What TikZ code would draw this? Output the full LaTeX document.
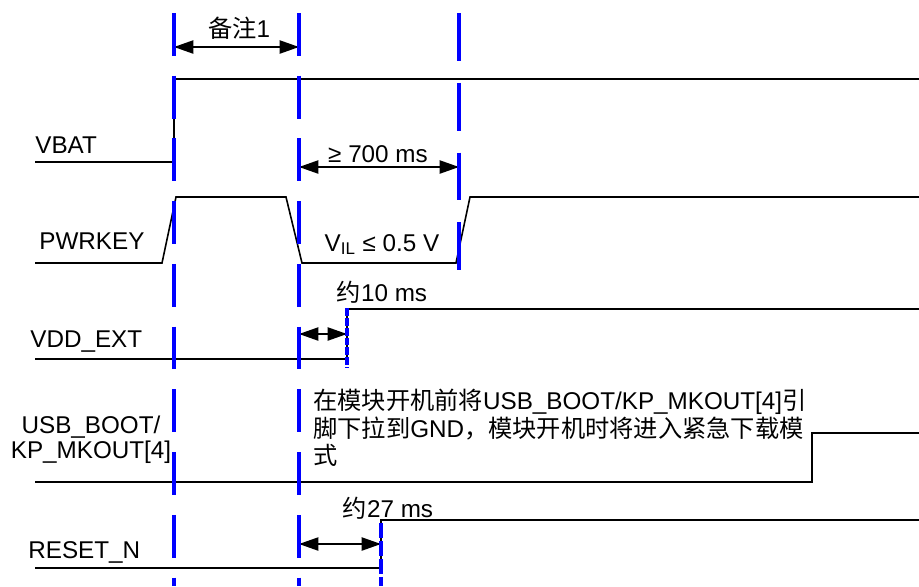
\documentclass[tikz,border=0pt]{standalone}
\usepackage{fontspec}
\setmainfont{Liberation Sans}
\newfontfamily\cjk{Noto Sans CJK SC}
\usetikzlibrary{arrows.meta}
\definecolor{markblue}{RGB}{0,0,255}

\tikzset{
  sig/.style={line width=0.9pt, black},
  marker/.style={line width=2pt, markblue, dash pattern=on 24.4pt off 11.3pt},
  finemarker/.style={line width=2pt, markblue, dash pattern=on 4.5pt off 1.1pt},
  dim/.style={line width=0.9pt, {Triangle[length=11pt,width=7.5pt]}-{Triangle[length=11pt,width=7.5pt]}},
  lbl/.style={anchor=base west, inner sep=0pt},
  note/.style={anchor=base, inner sep=0pt}
}

\begin{document}
\begin{tikzpicture}[x=0.02cm, y=-0.02cm, font=\fontsize{13.8}{14.2}\selectfont]
  \useasboundingbox (0,0) rectangle (919,586);

  %% VBAT
  \node[lbl] (vbat) at (35,153) {VBAT};
  \draw[sig] (35,162) -- (174,162) -- (174,79) -- (919,79);

  %% PWRKEY
  \node[lbl] (pwrkey) at (39,249) {PWRKEY};
  \draw[sig] (35,263) -- (162,263) -- (176,197) -- (286,197)
    -- (302,263) -- (456,263) -- (470,197) -- (919,197);
  \node[note] (vil) at (382,251) {V\textsubscript{IL} ≤ 0.5 V};

  %% VDD_EXT
  \node[lbl] (vddext) at (30,347) {VDD\_EXT};
  \draw[sig] (35,359) -- (347,359) -- (347,309) -- (919,309);

  %% USB_BOOT/KP_MKOUT[4]
  \node[align=center, anchor=north, inner sep=0pt] (usbboot) at (91,416)
    {USB\_BOOT/\\KP\_MKOUT[4]};
  \draw[sig] (35,482) -- (812,482) -- (812,433) -- (919,433);
  \node[align=left, anchor=north west, inner sep=0pt,
        font=\fontsize{13.8}{15.6}\selectfont] (bootnote) at (313,389)
    {{\cjk 在模块开机前将}USB\_BOOT/KP\_MKOUT[4]{\cjk 引}\\
     {\cjk 脚下拉到}GND{\cjk ，模块开机时将进入紧急下载模}\\
     {\cjk 式}};

  %% RESET_N
  \node[lbl] (resetn) at (28,558) {RESET\_N};
  \draw[sig] (35,568) -- (381,568) -- (381,520) -- (919,520);

  %% Timing arrows
  \coordinate (n1L) at (174,47);  \coordinate (n1R) at (299,47);
  \coordinate (d7L) at (299,167); \coordinate (d7R) at (459,167);
  \coordinate (d10L) at (299,334); \coordinate (d10R) at (347,334);
  \coordinate (d27L) at (299,544); \coordinate (d27R) at (381,544);
  \draw[dim] (n1L) -- (n1R);
  \draw[dim] (d7L) -- (d7R);
  \draw[dim] (d10L) -- (d10R);
  \draw[dim] (d27L) -- (d27R);
  \node[note] (note1) at (239,37) {{\cjk 备注}1};
  \node[note] (t700) at (378,162) {≥ 700 ms};
  \node[note] (t10) at (382,301) {{\cjk 约}10 ms};
  \node[note] (t27) at (388,517) {{\cjk 约}27 ms};

  %% Blue marker lines
  \draw[marker] (174,13) -- (174,586);
  \draw[marker] (299,13) -- (299,586);
  \draw[marker, dash pattern=on 27.2pt off 12.5pt] (459,13) -- (459,275);
  \draw[finemarker] (347,308) -- (347,368);
  \draw[finemarker, dash pattern=on 8.5pt off 1.7pt] (381,523) -- (381,586);
\end{tikzpicture}
\end{document}
